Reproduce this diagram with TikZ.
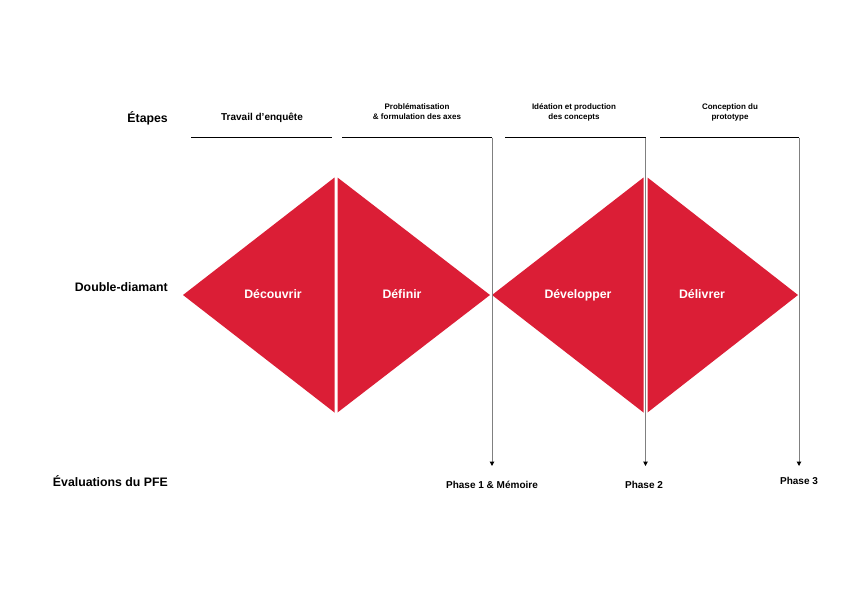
\documentclass[tikz,border=0pt]{standalone}
\usepackage{fontspec}
\setmainfont{Liberation Sans}
\usetikzlibrary{arrows.meta}
\definecolor{ddred}{RGB}{219,30,54}
\definecolor{evalgray}{RGB}{128,128,128}

\begin{document}
\begin{tikzpicture}[
    x=1pt, y=-1pt,
    rowlabel/.style={anchor=base east, inner sep=0pt,
        font=\fontsize{12.3}{14}\selectfont\bfseries},
    steplabel/.style={anchor=base, inner sep=0pt, align=center,
        font=\fontsize{8}{9.8}\selectfont\bfseries},
    phaselabel/.style={anchor=base, inner sep=0pt,
        font=\fontsize{10}{12}\selectfont\bfseries},
    stagename/.style={anchor=base, inner sep=0pt, text=white,
        font=\fontsize{12.3}{14}\selectfont\bfseries},
    half/.style={fill=ddred},
    stepline/.style={line width=1.2pt, black},
    evalarrow/.style={line width=1pt, evalgray,
        -{Triangle[width=4.5pt, length=4.5pt, color=black]}}
]
    \useasboundingbox (0,0) rectangle (842,595);

    % Row labels
    \node[rowlabel] (retapes) at (168,122) {Étapes};
    \node[rowlabel] (rdd) at (168,291) {Double-diamant};
    \node[rowlabel] (reval) at (168,486.5) {Évaluations du PFE};

    % Double diamond (four halves)
    \fill[half] (183,295) -- (334.5,177.5) -- (334.5,412.5) -- cycle;
    \fill[half] (337.5,177.5) -- (490,295) -- (337.5,412.5) -- cycle;
    \fill[half] (492,295) -- (643.5,177.5) -- (643.5,412.5) -- cycle;
    \fill[half] (647.5,177.5) -- (798,295) -- (647.5,412.5) -- cycle;
    \node[stagename] (decouvrir) at (273,298.5) {Découvrir};
    \node[stagename] (definir) at (402,298.5) {Définir};
    \node[stagename] (developper) at (578,298.5) {Développer};
    \node[stagename] (delivrer) at (702,298.5) {Délivrer};

    % Steps
    \node[phaselabel] (enquete) at (262,120.5) {Travail d’enquête};
    \node[steplabel] (probl) at (417,119.7) {Problématisation\\\& formulation des axes};
    \node[steplabel] (ideation) at (574,119.5) {Idéation et production\\des concepts};
    \node[steplabel] (proto) at (730,119.5) {Conception du\\prototype};

    \coordinate (s1a) at (191,137.5);
    \coordinate (s1b) at (332,137.5);
    \coordinate (s2a) at (342,137.5);
    \coordinate (s2b) at (492,137.5);
    \coordinate (s3a) at (505,137.5);
    \coordinate (s3b) at (645.5,137.5);
    \coordinate (s4a) at (660,137.5);
    \coordinate (s4b) at (799,137.5);
    \draw[stepline] (s1a) -- (s1b);
    \draw[stepline] (s2a) -- (s2b);
    \draw[stepline] (s3a) -- (s3b);
    \draw[stepline] (s4a) -- (s4b);

    % Evaluations
    \node[phaselabel] (phase1) at (492,488.3) {Phase 1 \& Mémoire};
    \node[phaselabel] (phase2) at (644,488.3) {Phase 2};
    \node[phaselabel] (phase3) at (799,484) {Phase 3};
    \coordinate (e1) at (492,466);
    \coordinate (e2) at (645.5,466);
    \coordinate (e3) at (799,466);
    \draw[evalarrow] (s2b) -- (e1);
    \draw[evalarrow] (s3b) -- (e2);
    \draw[evalarrow] (s4b) -- (e3);

\end{tikzpicture}
\end{document}
